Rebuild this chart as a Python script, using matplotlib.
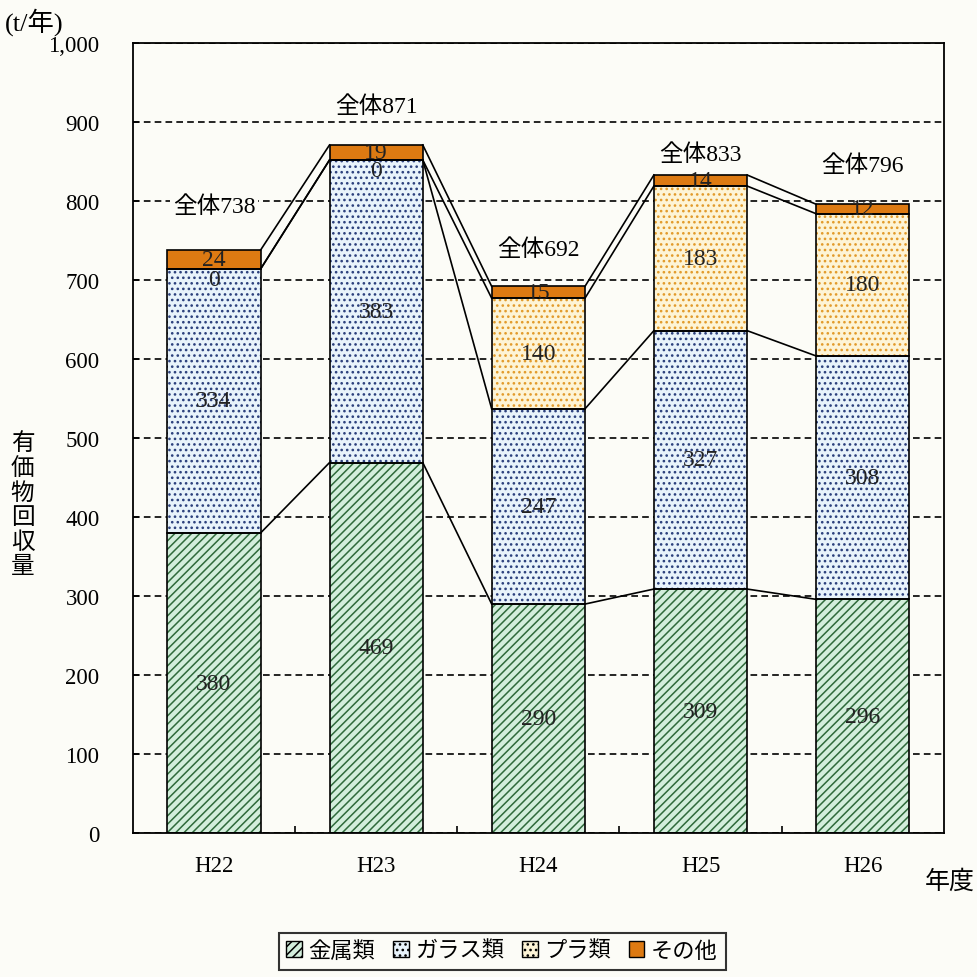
import matplotlib.pyplot as plt
from matplotlib.patches import Patch
from matplotlib.ticker import FuncFormatter
import numpy as np

plt.rcParams['font.family'] = ['Liberation Serif', 'Noto Sans CJK JP']
plt.rcParams['hatch.linewidth'] = 1.1

years = ['H22', 'H23', 'H24', 'H25', 'H26']
series_names = ['金属類', 'ガラス類', 'プラ類', 'その他']
metal = [380, 469, 290, 309, 296]
glass = [334, 383, 247, 327, 308]
plastic = [0, 0, 140, 183, 180]
other = [24, 19, 15, 14, 12]
totals = [738, 871, 692, 833, 796]

# styling per series: face colour, hatch colour, hatch
styles = [
    ('#d3eedc', '#2f6a3b', '////'),
    ('#e8f3fb', '#2b3f7c', '...'),
    ('#fdf4d6', '#e29a2a', '...'),
    ('#dd7a12', '#dd7a12', None),
]
# extra lift of the "全体" labels above each bar (data units)
total_lift = [55, 49, 47, 26, 49]

bg = '#fcfcf7'
fig = plt.figure(figsize=(9.77, 9.78), dpi=100, facecolor=bg)
ax = fig.add_axes([0.136, 0.147, 0.830, 0.808], facecolor=bg)

x = np.arange(len(years))
w = 0.575
data = [metal, glass, plastic, other]
bottom = np.zeros(len(years))
levels = []
for vals, (face, hcol, hatch) in zip(data, styles):
    vals = np.array(vals, dtype=float)
    ax.bar(x, vals, w, bottom=bottom, color=face, edgecolor=hcol,
           hatch=hatch, linewidth=0, zorder=2)
    ax.bar(x, vals, w, bottom=bottom, fill=False, edgecolor='black',
           linewidth=1.2, zorder=3)
    for xi, v, b in zip(x, vals, bottom):
        if v == 0:
            ax.text(xi, b, '0', ha='center', va='top', fontsize=17,
                    color='#222222', zorder=5)
        else:
            ax.text(xi, b + v / 2, f'{int(v)}', ha='center', va='center',
                    fontsize=17, color='#222222', zorder=5)
    bottom = bottom + vals
    levels.append(bottom.copy())

# series lines between bars
for lev in levels:
    for i in range(len(years) - 1):
        ax.plot([x[i] + w / 2, x[i + 1] - w / 2], [lev[i], lev[i + 1]],
                color='black', linewidth=1.2, zorder=4)

for xi, t, lift in zip(x, totals, total_lift):
    ax.text(xi, t + lift, f'全体{t}', ha='center', va='center', fontsize=17,
            zorder=6, bbox=dict(facecolor=bg, edgecolor='none', pad=2))

ax.set_xlim(-0.5, len(years) - 0.5)
ax.set_ylim(0, 1000)
ax.set_yticks(range(0, 1001, 100))
ax.yaxis.set_major_formatter(FuncFormatter(lambda v, p: f'{v:,.0f}'))
ax.yaxis.grid(True, linestyle=(0, (4, 2.5)), color='black', linewidth=1.2,
              zorder=1)
ax.set_axisbelow(True)
ax.set_xticks(x)
ax.set_xticklabels(years)
ax.set_xticks(x[:-1] + 0.5, minor=True)
ax.tick_params(axis='x', which='major', length=0, pad=16, labelsize=16.5)
ax.tick_params(axis='x', which='minor', direction='in', length=5, width=1.2)
ax.tick_params(axis='y', direction='in', length=4, width=1.2, pad=24,
               labelsize=16.5)
for s in ax.spines.values():
    s.set_linewidth(1.3)

fig.text(0.005, 0.977, '(t/年)', ha='left', va='center', fontsize=19)
fig.text(0.998, 0.098, '年度', ha='right', va='center', fontsize=18)
fig.text(0.023, 0.483, '有\n価\n物\n回\n収\n量', ha='center', va='center',
         fontsize=17, linespacing=1.2)

handles = [Patch(facecolor=f, edgecolor='black', hatch=h, linewidth=1)
           for f, hc, h in styles]
leg = fig.legend(handles, series_names, loc='center',
                 bbox_to_anchor=(0.514, 0.026), ncol=4, fontsize=16,
                 frameon=True, fancybox=False, edgecolor='black',
                 handlelength=0.7, handleheight=0.7, handletextpad=0.3,
                 columnspacing=0.8, borderpad=0.35)
leg.get_frame().set_linewidth(1.5)
leg.get_frame().set_facecolor(bg)

fig.savefig('out.png', dpi=100, facecolor=bg)
